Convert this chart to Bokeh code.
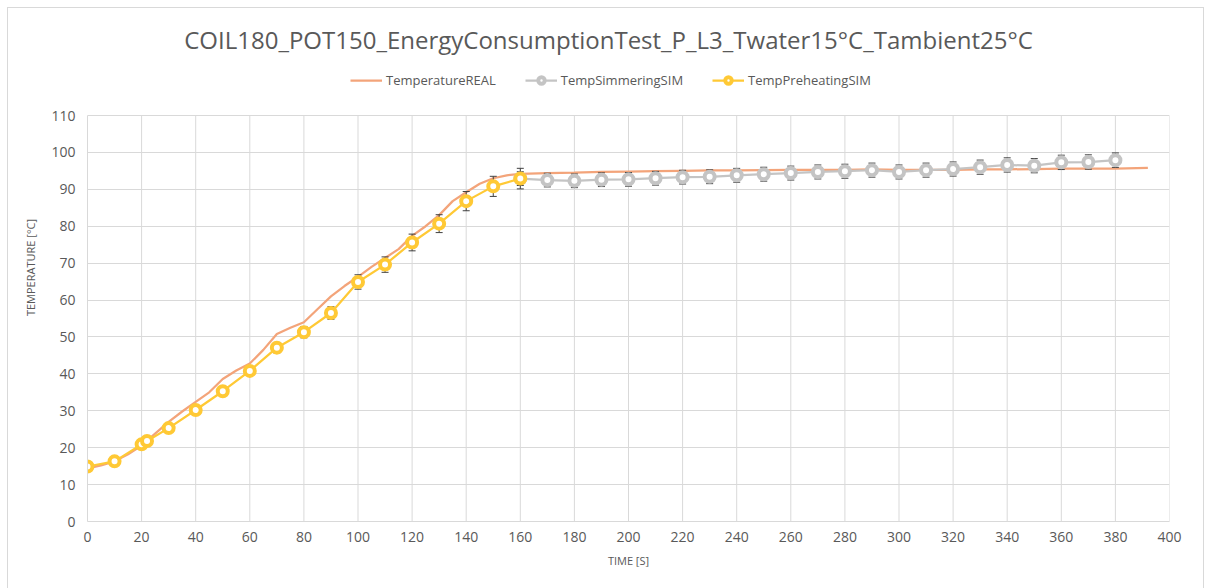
from bokeh.plotting import figure
from bokeh.models import Range1d, Legend, LegendItem, Label
from bokeh.embed import file_html
from bokeh.resources import INLINE

TITLE = "COIL180_POT150_EnergyConsumptionTest_P_L3_Twater15°C_Tambient25°C"

# Measured temperature (REAL)
real_time = [0, 5, 10, 15, 20, 25, 30, 35, 40, 45, 50, 55, 60, 65, 70, 75, 80, 85, 90,
             95, 100, 105, 110, 115, 120, 125, 130, 135, 140, 145, 150, 155, 160, 170,
             180, 190, 200, 210, 220, 230, 240, 250, 260, 270, 280, 290, 300, 310, 320,
             330, 340, 350, 360, 370, 380, 392]
real_temp = [14.4, 15.2, 16.3, 18.2, 20.6, 23.8, 27.0, 29.8, 32.4, 35.0, 38.6, 40.9, 42.8,
             46.5, 50.8, 52.5, 54.0, 57.5, 61.0, 63.8, 66.3, 69.0, 71.4, 73.8, 77.4, 80.0,
             83.0, 86.8, 89.2, 91.5, 93.0, 93.8, 94.2, 94.4, 94.5, 94.7, 94.8, 94.9, 95.0,
             95.1, 95.1, 95.2, 95.3, 95.3, 95.3, 95.4, 95.3, 95.3, 95.3, 95.4, 95.4, 95.5,
             95.6, 95.6, 95.6, 95.8]

# Simulated preheating phase
pre_time = [0, 10, 20, 22, 30, 40, 50, 60, 70, 80, 90, 100, 110, 120, 130, 140, 150, 160]
pre_temp = [14.9, 16.3, 20.9, 21.8, 25.3, 30.2, 35.3, 40.8, 47.1, 51.3, 56.5, 64.9, 69.6,
            75.6, 80.7, 86.8, 90.8, 92.9]

# Simulated simmering phase
sim_time = [160, 170, 180, 190, 200, 210, 220, 230, 240, 250, 260, 270, 280, 290, 300,
            310, 320, 330, 340, 350, 360, 370, 380]
sim_temp = [92.9, 92.5, 92.3, 92.6, 92.7, 93.0, 93.3, 93.4, 93.8, 94.1, 94.4, 94.7, 94.9,
            95.2, 94.7, 95.2, 95.5, 96.0, 96.6, 96.4, 97.3, 97.4, 97.9]

# Error bars (percentage of value, as in the spreadsheet)
pre_err_pct = 3
sim_err_pct = 2

x_ticks = list(range(0, 401, 20))
y_ticks = list(range(0, 111, 10))

FONT = "Open Sans"
TXT = "#595959"
GRID = "#D9D9D9"
C_REAL = "#F3A47A"
C_SIM = "#C4C4C4"
C_PRE = "#FFC935"
C_ERR = "#404040"

# Layout: plot area of 1082 x 406 px for the 0..110 axis; the frame is extended
# upwards so that the title and legend sit inside it (header area).
W, H = 1195, 580
BL, BR, BT, BB = 79, 34, 5, 67
AXIS_PX = 406
frame_h = H - BT - BB
y_top = y_ticks[-1] * frame_h / AXIS_PX

p = figure(width=W, height=H,
           x_range=Range1d(x_ticks[0], x_ticks[-1]), y_range=Range1d(0, y_top),
           output_backend="svg", toolbar_location=None,
           min_border_left=BL, min_border_right=BR,
           min_border_top=BT, min_border_bottom=BB)
p.outline_line_color = None
p.background_fill_color = "white"
p.border_fill_color = "white"
p.styles = {"margin-left": "8px", "margin-top": "8px", "outline": "1px solid #D9D9D9"}

for ax, ticks in ((p.xaxis, x_ticks), (p.yaxis, y_ticks)):
    ax.ticker = ticks
    ax.major_tick_in = 0
    ax.major_tick_out = 0
    ax.minor_tick_line_color = None
    ax.axis_line_color = GRID
    ax.major_label_text_font = FONT
    ax.major_label_text_font_size = "14px"
    ax.major_label_text_color = TXT
    ax.axis_label_text_font = FONT
    ax.axis_label_text_font_size = "11px"
    ax.axis_label_text_font_style = "normal"
    ax.axis_label_text_color = TXT
p.yaxis.bounds = (y_ticks[0], y_ticks[-1])

p.xaxis.axis_label = "TIME [S]"
p.yaxis.axis_label = "TEMPERATURE [°C]"
p.xaxis.major_label_standoff = 10
p.yaxis.major_label_standoff = 12
p.xaxis.axis_label_standoff = 8
p.yaxis.axis_label_standoff = 10

# horizontal grid via the grid model, vertical grid lines limited to the axis span
p.xgrid.visible = False
p.ygrid.ticker = y_ticks
p.ygrid.grid_line_color = GRID
p.ygrid.grid_line_width = 1
p.segment(x_ticks, [y_ticks[0]] * len(x_ticks), x_ticks, [y_ticks[-1]] * len(x_ticks),
          line_color=GRID, line_width=1)

# REAL
real_line = p.line(real_time, real_temp, line_color=C_REAL, line_width=2.25)

# Simmering with error bars
sim_lo = [v * (1 - sim_err_pct / 100) for v in sim_temp]
sim_hi = [v * (1 + sim_err_pct / 100) for v in sim_temp]
p.segment(sim_time, sim_lo, sim_time, sim_hi, line_color=C_ERR, line_width=1)
p.scatter(sim_time + sim_time, sim_lo + sim_hi, marker="dash", size=7,
          line_color=C_ERR, line_width=1)
sim_line = p.line(sim_time, sim_temp, line_color=C_SIM, line_width=2.25)
sim_pts = p.scatter(sim_time, sim_temp, marker="circle", size=10, fill_color="white",
                    line_color=C_SIM, line_width=4)

# Preheating with error bars
pre_lo = [v * (1 - pre_err_pct / 100) for v in pre_temp]
pre_hi = [v * (1 + pre_err_pct / 100) for v in pre_temp]
p.segment(pre_time, pre_lo, pre_time, pre_hi, line_color=C_ERR, line_width=1)
p.scatter(pre_time + pre_time, pre_lo + pre_hi, marker="dash", size=7,
          line_color=C_ERR, line_width=1)
pre_line = p.line(pre_time, pre_temp, line_color=C_PRE, line_width=2.25)
pre_pts = p.scatter(pre_time, pre_temp, marker="circle", size=10, fill_color="white",
                    line_color=C_PRE, line_width=4)

legend = Legend(items=[
    LegendItem(label="TemperatureREAL", renderers=[real_line]),
    LegendItem(label="TempSimmeringSIM", renderers=[sim_line, sim_pts]),
    LegendItem(label="TempPreheatingSIM", renderers=[pre_line, pre_pts]),
], orientation="horizontal", location=(263, 432), padding=0, margin=0, spacing=29,
    glyph_width=32, glyph_height=16, label_standoff=4,
    border_line_alpha=0, background_fill_alpha=0,
    label_text_font=FONT, label_text_font_size="13px", label_text_color=TXT)
p.add_layout(legend)

title = Label(x=521, y=482, x_units="screen", y_units="screen", text=TITLE,
              text_align="center", text_baseline="middle",
              text_font=FONT, text_font_size="24px", text_color=TXT)
p.add_layout(title)

open("out.html", "w").write(file_html(p, INLINE))
